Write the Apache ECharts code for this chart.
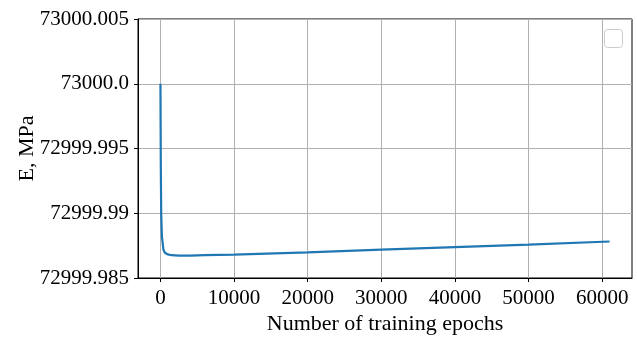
<!DOCTYPE html>
<html>
<head>
<meta charset="utf-8">
<script src="https://cdn.jsdelivr.net/npm/echarts@6/dist/echarts.min.js"></script>
<style>html,body{margin:0;padding:0;background:#fff}#c{width:637px;height:340px}</style>
</head>
<body>
<div id="c"></div>
<script>
const epochs = [0, 50, 100, 200, 400, 600, 1000, 1500, 2500, 4000, 6000, 10000, 20000, 30000, 40000, 50000, 61000];
const modulus = [73000.0, 72999.9935, 72999.990, 72999.9882, 72999.9872, 72999.98695, 72999.98682, 72999.98676, 72999.98673, 72999.98673, 72999.98676, 72999.98681, 72999.98698, 72999.98719, 72999.98739, 72999.98757, 72999.98782];
const yTickLabels = ['72999.985', '72999.99', '72999.995', '73000.0', '73000.005'];
const xTickValues = [0, 10000, 20000, 30000, 40000, 50000, 60000];

const yMin = 72999.985, yMax = 73000.005, yStep = 0.005;
const xMin = -3050, xMax = 64050;

const chart = echarts.init(document.getElementById('c'), null, {renderer: 'canvas'});
const font = 'Liberation Serif';
chart.setOption({
  animation: false,
  grid: {left: 138, top: 19, right: 5, bottom: 58, show: true, borderColor: '#000', borderWidth: 1, backgroundColor: 'transparent'},
  xAxis: {
    type: 'value', min: xMin, max: xMax,
    name: 'Number of training epochs', nameLocation: 'middle', nameGap: 35, nameMoveOverlap: false,
    nameTextStyle: {fontFamily: font, fontSize: 22, color: '#000'},
    axisLine: {show: true, onZero: false, lineStyle: {color: '#000', width: 1}},
    axisTick: {show: true, length: 4, lineStyle: {color: '#000'}, customValues: xTickValues},
    axisLabel: {fontFamily: font, fontSize: 21, color: '#000', margin: 10, customValues: xTickValues,
      formatter: v => String(v)},
    splitLine: {show: false}
  },
  yAxis: {
    type: 'value', min: yMin, max: yMax, interval: yStep,
    name: 'E, MPa', nameLocation: 'middle', nameGap: 100, nameRotate: 90, nameMoveOverlap: false,
    nameTextStyle: {fontFamily: font, fontSize: 22, color: '#000'},
    axisLine: {show: true, onZero: false, lineStyle: {color: '#000', width: 1}},
    axisTick: {show: true, length: 4, lineStyle: {color: '#000'}},
    axisLabel: {fontFamily: font, fontSize: 21, color: '#000', margin: 9,
      formatter: v => yTickLabels[Math.round((v - yMin) / yStep)]},
    splitLine: {show: true, lineStyle: {color: '#b0b0b0', width: 1}}
  },
  series: [
    {
      type: 'line', data: [], symbol: 'none', z: 0,
      markLine: {
        silent: true, symbol: 'none', label: {show: false}, z: 0,
        lineStyle: {color: '#b0b0b0', width: 1, type: 'solid'},
        data: xTickValues.map(v => ({xAxis: v}))
      }
    },
    {
      type: 'line', data: epochs.map((e, i) => [e, modulus[i]]),
      showSymbol: false, symbol: 'none', smooth: false, z: 5,
      lineStyle: {color: '#1f77b4', width: 2.2}
    }
  ],
  graphic: [{
    type: 'rect', right: 14, top: 29,
    shape: {width: 18, height: 18, r: 3},
    style: {fill: '#fff', stroke: '#cccccc', lineWidth: 1}, z: 10
  }]
});
</script>
</body>
</html>
